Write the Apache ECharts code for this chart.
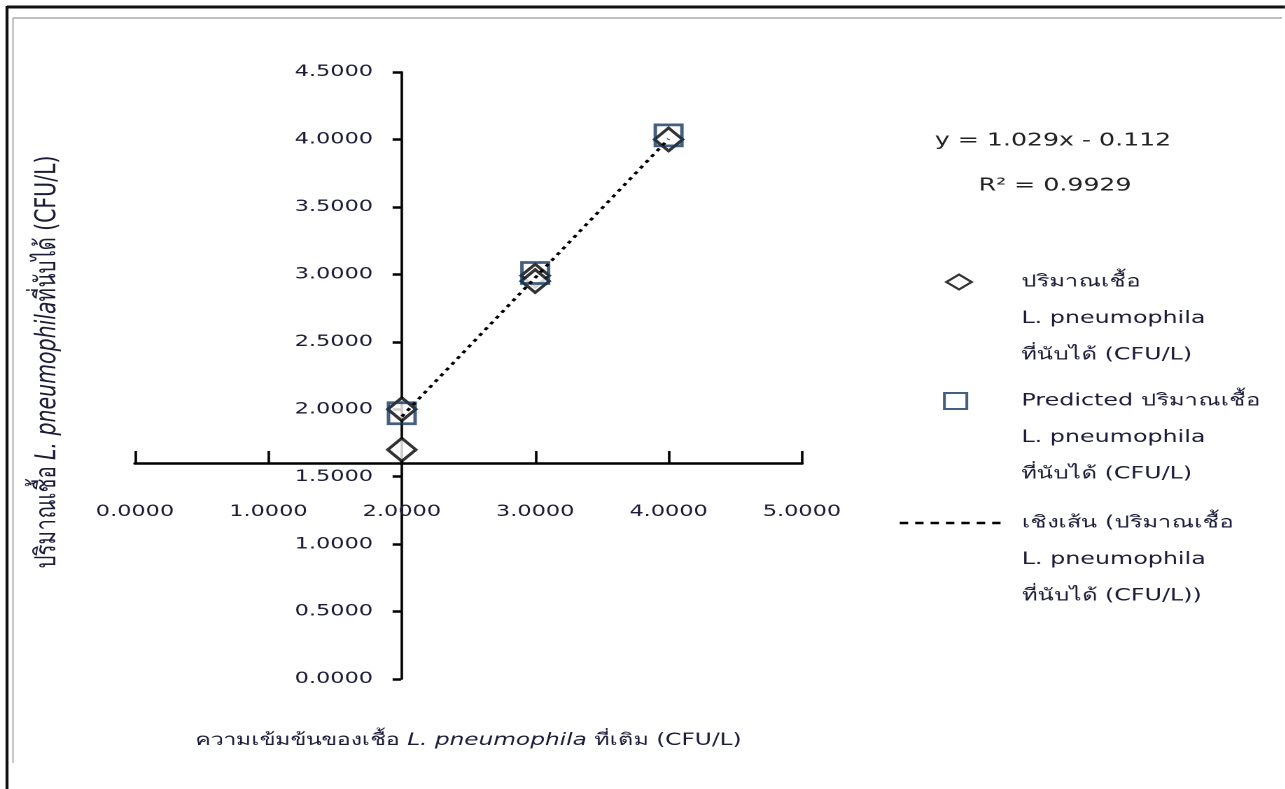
<!DOCTYPE html>
<html>
<head>
<meta charset="utf-8">
<title>L. pneumophila</title>
<script src="https://cdn.jsdelivr.net/npm/echarts@6/dist/echarts.min.js"></script>
<style>
html,body{margin:0;padding:0;background:#fff;overflow:hidden;}
/* the original picture is stretched sideways, so the chart is too */
#main{width:918px;height:789px;transform:scaleX(1.4);transform-origin:0 0;}
</style>
</head>
<body>
<div id="main"></div>
<script>
var SX = 1.4;
function px(x) { return x / SX; }   // screen x -> chart x

// ค่าที่อ่านจากกราฟ
var countedX = [2, 2, 3, 3, 4];
var countedY = [2.00, 1.70, 2.99, 2.95, 4.00];
var predictedX = [2, 3, 4];
var predictedY = [1.97, 3.01, 4.03];
var trendX = [2, 4];
var trendY = [1.946, 4.004];

var nameCounted = 'ปริมาณเชื้อ\nL. pneumophila\nที่นับได้ (CFU/L)';
var namePredicted = 'Predicted ปริมาณเชื้อ\nL. pneumophila\nที่นับได้ (CFU/L)';
var nameTrend = 'เชิงเส้น (ปริมาณเชื้อ\nL. pneumophila\nที่นับได้ (CFU/L))';
var xTitle = 'ความเข้มข้นของเชื้อ {i|L. pneumophila} ที่เติม (CFU/L)';
var yTitle = 'ปริมาณเชื้อ {i|L. pneumophila}ที่นับได้ (CFU/L)';
var eqText = 'y = 1.029x - 0.112';
var r2Text = 'R² = 0.9929';

var FONT = "'DejaVu Sans', 'Noto Sans', sans-serif";
var TXT = '#1c1c3a';
var LH = 36.6;

function pairs(xs, ys) {
	var out = [];
	for (var i = 0; i < xs.length; i++) out.push([xs[i], ys[i]]);
	return out;
}
function fmt4(v) { return v.toFixed(4); }
// two blank lines first, so the icon sits next to the first line
function legFmt(name) { return '\n\n' + name; }
function legText(pl) {
	return { fontSize: 17, color: TXT, fontFamily: FONT, lineHeight: LH, padding: [0, 0, 0, pl] };
}

var chart = echarts.init(document.getElementById('main'), null, { devicePixelRatio: 2 });
chart.setOption({
	animation: false,
	backgroundColor: '#fff',
	grid: [
		{ left: px(135), top: 72, width: px(802) - px(135), height: 607, outerBoundsMode: 'none' },
		{ left: px(401), top: 72, width: px(802) - px(401), height: 607, outerBoundsMode: 'none' },
		{ left: px(135), top: 72, width: px(802) - px(135), height: 391, outerBoundsMode: 'none' }
	],
	xAxis: [
		{
			gridIndex: 0, type: 'value', min: 0, max: 5,
			axisLine: { show: false }, axisTick: { show: false }, axisLabel: { show: false }, splitLine: { show: false },
			name: xTitle, nameLocation: 'middle', nameGap: 53,
			nameTextStyle: {
				fontSize: 16.6, color: TXT, fontFamily: FONT,
				rich: { i: { fontSize: 16.6, color: TXT, fontFamily: FONT, fontStyle: 'italic' } }
			}
		},
		{ gridIndex: 1, type: 'value', show: false, min: 0, max: 1 },
		{
			gridIndex: 2, type: 'value', min: 0, max: 5, interval: 1, position: 'bottom',
			axisLine: { onZero: false, lineStyle: { color: '#000', width: 2.5 } },
			axisTick: { inside: true, length: 12, lineStyle: { color: '#000', width: 1.8 } },
			axisLabel: { margin: 41, formatter: fmt4, color: TXT, fontSize: 16, fontFamily: FONT },
			splitLine: { show: false }
		}
	],
	yAxis: [
		{
			gridIndex: 0, type: 'value', min: 0, max: 4.5, show: false
		},
		{
			gridIndex: 1, type: 'value', min: 0, max: 4.5, interval: 0.5, position: 'left',
			axisLine: { onZero: false, lineStyle: { color: '#000', width: 1.8 } },
			axisTick: { length: 6, lineStyle: { color: '#000', width: 2.5 } },
			axisLabel: { margin: 20, formatter: fmt4, color: TXT, fontSize: 16, fontFamily: FONT },
			splitLine: { show: false }
		},
		{ gridIndex: 2, type: 'value', show: false, min: 0, max: 1 }
	],
	legend: [
		{
			data: [nameCounted], left: px(945), top: 282 - 2.5 * LH, padding: 0, selectedMode: false,
			itemWidth: 18, itemHeight: 15, formatter: legFmt,
			textStyle: legText(px(1020) - px(945) - 18 - 5)
		},
		{
			data: [namePredicted], left: px(943), top: 401 - 2.5 * LH, padding: 0, selectedMode: false,
			itemWidth: 16, itemHeight: 16, formatter: legFmt,
			textStyle: legText(px(1020) - px(943) - 16 - 5)
		},
		{
			data: [nameTrend], left: px(898), top: 523 - 2.5 * LH, padding: 0, selectedMode: false,
			itemWidth: px(1003) - px(898), itemHeight: 14, formatter: legFmt,
			itemStyle: { opacity: 0 },
			lineStyle: { color: '#000', width: 2.5, type: [6, 5], opacity: 1 },
			textStyle: legText(px(1020) - px(1003) - 5)
		}
	],
	series: [
		{
			name: nameCounted, type: 'scatter', xAxisIndex: 0, yAxisIndex: 0,
			symbol: 'diamond', symbolSize: [20, 23],
			itemStyle: { color: '#fff', borderColor: '#000', borderWidth: 2.6 },
			data: pairs(countedX, countedY)
		},
		{
			name: namePredicted, type: 'scatter', xAxisIndex: 0, yAxisIndex: 0,
			symbol: 'rect', symbolSize: [19, 21],
			itemStyle: { color: 'rgba(0,0,0,0)', borderColor: '#17375e', borderWidth: 2.6 },
			data: pairs(predictedX, predictedY)
		},
		{
			name: nameTrend, type: 'line', xAxisIndex: 0, yAxisIndex: 0,
			symbol: 'none', itemStyle: { color: '#000' },
			lineStyle: { color: '#000', width: 2.5, type: [3, 4] },
			data: pairs(trendX, trendY)
		}
	],
	graphic: [
		{ type: 'line', silent: true, shape: { x1: px(7), y1: 7, x2: px(1285), y2: 7 }, style: { stroke: '#111', lineWidth: 3 } },
		{ type: 'line', silent: true, shape: { x1: px(7), y1: 6, x2: px(7), y2: 789 }, style: { stroke: '#111', lineWidth: 3 / SX } },
		{ type: 'line', silent: true, shape: { x1: px(13), y1: 18, x2: px(1282), y2: 18 }, style: { stroke: '#9a9a9a', lineWidth: 1.2 } },
		{ type: 'line', silent: true, shape: { x1: px(13), y1: 18, x2: px(13), y2: 763 }, style: { stroke: '#9a9a9a', lineWidth: 1.2 / SX } },
		{
			type: 'text', silent: true, x: px(48), y: 362, rotation: Math.PI / 2,
			style: {
				text: yTitle, fontSize: 20.5, fontFamily: FONT, fill: TXT,
				textAlign: 'center', align: 'center', verticalAlign: 'middle', textVerticalAlign: 'middle',
				rich: { i: { fontSize: 20.5, fontFamily: FONT, fill: TXT, fontStyle: 'italic' } }
			}
		},
		{
			type: 'text', silent: true, x: px(1053), y: 141,
			style: { text: eqText, fontSize: 18, fontFamily: FONT, fill: '#222', textAlign: 'center', align: 'center', verticalAlign: 'middle', textVerticalAlign: 'middle' }
		},
		{
			type: 'text', silent: true, x: px(1055), y: 186,
			style: { text: r2Text, fontSize: 18, fontFamily: FONT, fill: '#222', textAlign: 'center', align: 'center', verticalAlign: 'middle', textVerticalAlign: 'middle' }
		}
	]
});
</script>
</body>
</html>
